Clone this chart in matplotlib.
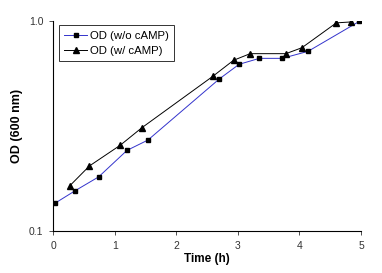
import matplotlib
matplotlib.use("Agg")
import matplotlib.pyplot as plt
from matplotlib.ticker import FixedLocator, NullLocator

plt.rcParams['font.family'] = ['Liberation Sans', 'DejaVu Sans']

t_wo = [0.03, 0.36, 0.74, 1.2, 1.54, 2.7, 3.02, 3.35, 3.72, 4.14, 4.97]
od_wo = [0.1355, 0.1556, 0.181, 0.242, 0.271, 0.53, 0.622, 0.664, 0.664, 0.717, 0.995]
t_w = [0.27, 0.59, 1.09, 1.44, 2.6, 2.93, 3.2, 3.78, 4.04, 4.6, 4.84]
od_w = [0.164, 0.204, 0.256, 0.31, 0.547, 0.65, 0.699, 0.699, 0.746, 0.98, 0.99]
xticks = [0, 1, 2, 3, 4, 5]
yticks = [0.1, 1.0]
yticklabels = ['0.1', '1.0']

fig = plt.figure(figsize=(3.82, 2.73), dpi=100)
ax = fig.add_axes([0.139, 0.154, 0.806, 0.769])
ax.plot(t_wo, od_wo, color='#3333cc', lw=0.7, marker='s', ms=3.5,
        mfc='black', mec='black', label='OD (w/o cAMP)')
ax.plot(t_w, od_w, color='black', lw=0.7, marker='^', ms=4,
        mfc='black', mec='black', label='OD (w/ cAMP)')
ax.set_yscale('log')
ax.set_xlim(0, 5)
ax.set_ylim(0.1, 1.0)
ax.yaxis.set_major_locator(FixedLocator(yticks))
ax.yaxis.set_minor_locator(NullLocator())
ax.set_yticklabels(yticklabels)
ax.set_xticks(xticks)
for s in ['top', 'right']:
    ax.spines[s].set_visible(False)
for s in ['left', 'bottom']:
    ax.spines[s].set_linewidth(0.8)
ax.tick_params(labelsize=7.5, length=3, width=0.6, direction='out',
               colors='#333333', pad=4)
ax.set_xlabel('Time (h)', fontsize=8.5, fontweight='bold', labelpad=2)
ax.set_ylabel('OD (600 nm)', fontsize=9, fontweight='bold', labelpad=4)
leg = ax.legend(loc='upper left', bbox_to_anchor=(0.012, 0.99), fontsize=8.2,
                frameon=True, fancybox=False, edgecolor='black', borderpad=0.45,
                handlelength=2.0, handletextpad=0.3, labelspacing=0.45,
                borderaxespad=0.2)
leg.get_frame().set_linewidth(0.7)
fig.savefig('out.png', dpi=100)
